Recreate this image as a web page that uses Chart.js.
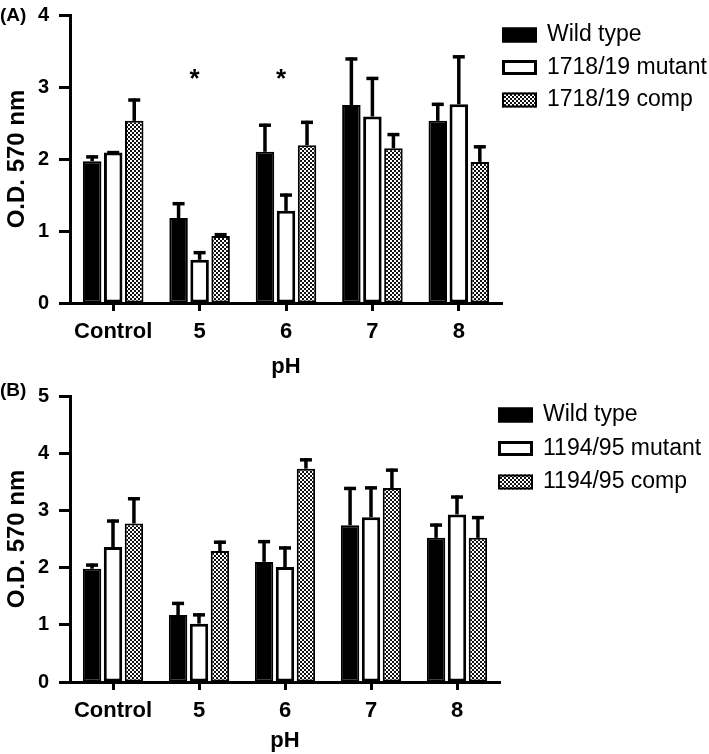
<!DOCTYPE html>
<html>
<head>
<meta charset="utf-8">
<script src="https://cdn.jsdelivr.net/npm/chart.js@4.4.0/dist/chart.umd.min.js"></script>
<style>
  html, body { margin: 0; padding: 0; background: #fff; }
  body { width: 709px; height: 754px; position: relative; overflow: hidden; font-family: 'Liberation Sans', Arial, sans-serif; }
  .panel { position: absolute; left: 0; width: 709px; }
  .tag { position: absolute; left: 0; font-weight: bold; font-size: 19px; line-height: 20px; z-index: 2; }
</style>
</head>
<body>
<div class="panel" style="top:0;height:382px"><canvas id="chartA" width="709" height="382"></canvas></div>
<div class="panel" style="top:377px;height:377px"><canvas id="chartB" width="709" height="377"></canvas></div>
<div class="tag" style="top:5px">(A)</div>
<div class="tag" style="top:380px">(B)</div>

<script>
const FONT = "'Liberation Sans', Arial, sans-serif";

// ===== DATA =====
const categories = ['Control', '5', '6', '7', '8'];

// panel A
const labelsA = ['Wild type', '1718/19 mutant', '1718/19 comp'];
const wildA = [1.97, 1.18, 2.10, 2.75, 2.53];
const wildErrA = [0.08, 0.22, 0.39, 0.66, 0.25];
const mutA = [2.09, 0.60, 1.28, 2.59, 2.76];
const mutErrA = [0.02, 0.12, 0.24, 0.55, 0.68];
const compA = [2.53, 0.93, 2.19, 2.15, 1.96];
const compErrA = [0.31, 0.04, 0.34, 0.21, 0.23];
const starsA = [null, 3.1, 3.1, null, null];

// panel B
const labelsB = ['Wild type', '1194/95 mutant', '1194/95 comp'];
const wildB = [1.98, 1.17, 2.10, 2.74, 2.52];
const wildErrB = [0.09, 0.23, 0.38, 0.67, 0.25];
const mutB = [2.36, 1.02, 2.01, 2.88, 2.93];
const mutErrB = [0.48, 0.18, 0.36, 0.54, 0.33];
const compB = [2.77, 2.29, 3.73, 3.39, 2.52];
const compErrB = [0.46, 0.18, 0.18, 0.34, 0.38];
const starsB = [null, null, null, null, null];

// checkerboard fill for the "comp" bars
function checkerPattern() {
    const c = document.createElement('canvas');
    c.width = 4; c.height = 4;
    const g = c.getContext('2d');
    g.fillStyle = '#fff';
    g.fillRect(0, 0, 4, 4);
    g.fillStyle = '#111';
    g.fillRect(0, 0, 2, 2);
    g.fillRect(2, 2, 2, 2);
    return g.createPattern(c, 'repeat');
}

// ===== PLUGINS =====
// upper error bars, read from dataset.errors
const errorBars = {
    id: 'errorBars',
    afterDatasetsDraw(chart) {
        const ctx = chart.ctx;
        const y = chart.scales.y;
        chart.data.datasets.forEach((ds, i) => {
            chart.getDatasetMeta(i).data.forEach((bar, j) => {
                const top = y.getPixelForValue(ds.data[j] + ds.errors[j]);
                ctx.save();
                ctx.strokeStyle = '#000';
                ctx.lineWidth = 3.5;
                ctx.beginPath();
                ctx.moveTo(bar.x, bar.y);
                ctx.lineTo(bar.x, top);
                ctx.stroke();
                ctx.beginPath();
                ctx.moveTo(bar.x - 6, top + 1.5);
                ctx.lineTo(bar.x + 6, top + 1.5);
                ctx.stroke();
                ctx.restore();
            });
        });
    }
};

// significance asterisks
const stars = {
    id: 'stars',
    afterDatasetsDraw(chart, args, opts) {
        if (!opts.values) return;
        const ctx = chart.ctx;
        ctx.save();
        ctx.fillStyle = '#000';
        ctx.font = 'bold 26px ' + FONT;
        ctx.textAlign = 'center';
        ctx.textBaseline = 'middle';
        opts.values.forEach((v, j) => {
            if (v === null) return;
            ctx.fillText('*', chart.scales.x.getPixelForValue(j) - 5, chart.scales.y.getPixelForValue(v));
        });
        ctx.restore();
    }
};

// legend drawn to the right of the plot
const boxLegend = {
    id: 'boxLegend',
    afterDraw(chart, args, o) {
        const ctx = chart.ctx;
        chart.data.datasets.forEach((ds, i) => {
            const cy = o.top + i * o.step;
            const bw = ds.borderWidth;
            ctx.save();
            ctx.fillStyle = ds.backgroundColor;
            ctx.fillRect(o.left, cy - 7.5, 35, 15);
            ctx.strokeStyle = '#000';
            ctx.lineWidth = bw;
            ctx.strokeRect(o.left + bw / 2, cy - 7.5 + bw / 2, 35 - bw, 15 - bw);
            ctx.fillStyle = '#000';
            ctx.font = '23px ' + FONT;
            ctx.textAlign = 'left';
            ctx.textBaseline = 'middle';
            ctx.fillText(ds.label, o.left + 45, cy);
            ctx.restore();
        });
    }
};

// ===== CHART BUILDER =====
function makeChart(id, labels, series, errs, starVals, cfg) {
    const pattern = checkerPattern();
    const styles = [
        { backgroundColor: '#000', borderColor: '#000', borderWidth: 2 },
        { backgroundColor: '#fff', borderColor: '#000', borderWidth: 3 },
        { backgroundColor: pattern, borderColor: '#000', borderWidth: 2 }
    ];
    return new Chart(document.getElementById(id), {
        type: 'bar',
        data: {
            labels: categories,
            datasets: series.map((d, i) => Object.assign({
                label: labels[i],
                data: d,
                errors: errs[i],
                borderSkipped: false,
                categoryPercentage: 0.73,
                barPercentage: 0.88
            }, styles[i]))
        },
        options: {
            responsive: false,
            animation: false,
            devicePixelRatio: 1,
            layout: { padding: { left: 0, right: 709 - cfg.right, top: cfg.top, bottom: 0 } },
            plugins: {
                legend: { display: false },
                tooltip: { enabled: false },
                stars: { values: starVals },
                boxLegend: cfg.legend
            },
            scales: {
                x: {
                    offset: true,
                    ticks: { color: '#000', padding: 8, font: { size: 22, weight: 'bold', family: FONT } },
                    grid: { offset: false, drawOnChartArea: false, drawTicks: true, tickLength: 8, tickWidth: 3, tickColor: '#000' },
                    border: { display: true, color: '#000', width: 3 },
                    title: { display: true, text: 'pH', color: '#000', padding: { top: 0, bottom: cfg.phPad }, font: { size: 22, weight: 'bold', family: FONT } },
                    afterFit: s => { s.height = cfg.xHeight; }
                },
                y: {
                    min: 0,
                    max: cfg.yMax,
                    ticks: { stepSize: 1, color: '#000', padding: 10, font: { size: 20, weight: 'bold', family: FONT } },
                    grid: { drawOnChartArea: false, drawTicks: true, tickLength: 11, tickWidth: 3, tickColor: '#000' },
                    border: { display: true, color: '#000', width: 3 },
                    title: { display: true, text: 'O.D. 570 nm', color: '#000', padding: { top: 3, bottom: 0 }, font: { size: 24, weight: 'bold', family: FONT } },
                    afterFit: s => { s.width = 70; s.paddingTop = 0; s.paddingBottom = 0; }
                }
            }
        },
        plugins: [errorBars, stars, boxLegend]
    });
}

makeChart('chartA', labelsA, [wildA, mutA, compA], [wildErrA, mutErrA, compErrA], starsA, {
    yMax: 4, top: 15, right: 502, xHeight: 79, phPad: 2,
    legend: { left: 502, top: 35, step: 32.5 }
});

makeChart('chartB', labelsB, [wildB, mutB, compB], [wildErrB, mutErrB, compErrB], starsB, {
    yMax: 5, top: 19, right: 500, xHeight: 72, phPad: 0,
    legend: { left: 498, top: 38, step: 33.5 }
});
</script>
</body>
</html>
